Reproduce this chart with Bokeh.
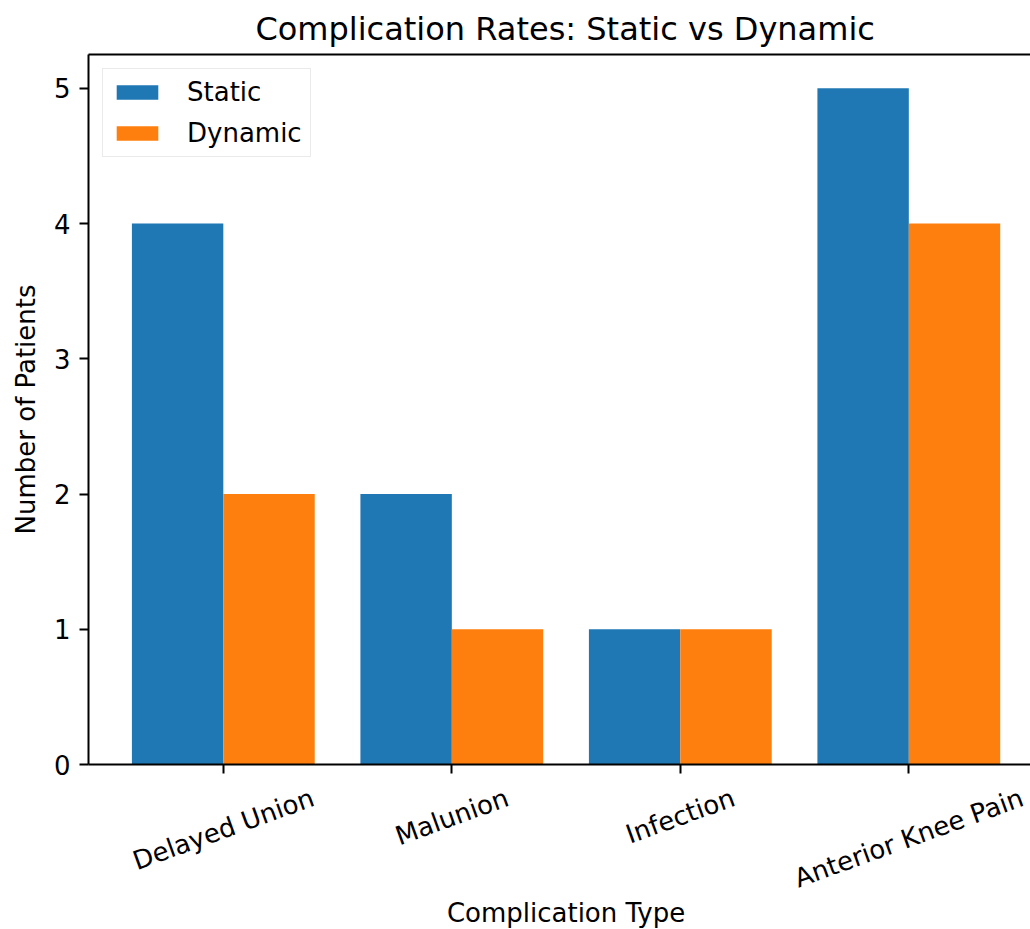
import math
import numpy as np
from bokeh.plotting import figure
from bokeh.layouts import column
from bokeh.models import Range1d, FixedTicker, LinearAxis, Legend, LegendItem
from bokeh.core.properties import value
from bokeh.embed import file_html
from bokeh.resources import INLINE

categories = ["Delayed Union", "Malunion", "Infection", "Anterior Knee Pain"]
static_vals = [4, 2, 1, 5]
dynamic_vals = [2, 1, 1, 4]
y_ticks = [0, 1, 2, 3, 4, 5]

FONT = "DejaVu Sans"
idx = np.arange(len(categories))
bar_w = 0.4

# approximate DejaVu Sans advance widths (units of 1/2048 em) to centre rotated labels
ADV = {"D": 1577, "e": 1260, "l": 569, "a": 1255, "y": 1212, "d": 1300, " ": 651,
       "U": 1499, "n": 1298, "i": 569, "o": 1253, "M": 1767, "u": 1298, "I": 604,
       "f": 721, "c": 1126, "t": 803, "A": 1401, "r": 842, "K": 1313, "P": 1235,
       "C": 1430, "m": 1995, "p": 1300, "R": 1423, "s": 1067, ":": 690, "S": 1300,
       "v": 1212, "T": 1251}


def text_w(s, size):
    return sum(ADV.get(ch, 1200) for ch in s) / 2048 * size


W, H = 1030, 929
FL, FT, FB = 88, 53, 764          # frame left / top / bottom in px
TICK_PANEL = 18
x0, x_ppu = -0.59, 228.5
y_end = 5.25
x_range = Range1d(x0, x0 + (W - FL) / x_ppu)

p = figure(width=W, height=FB + TICK_PANEL, output_backend="svg", toolbar_location=None,
           x_range=x_range, y_range=Range1d(0, y_end),
           min_border_left=FL, min_border_right=0, min_border_top=20,
           min_border_bottom=TICK_PANEL)
title_txt = "Complication Rates: Static vs Dynamic"
TITLE_FS = 32
p.title.text = title_txt
p.title.text_font = FONT
p.title.text_font_size = f"{TITLE_FS}px"
p.title.text_font_style = "normal"
p.title.text_color = "black"
p.title.align = "left"
p.title.offset = (1042 - FL) / 2 - text_w(title_txt, TITLE_FS) / 2
p.title.standoff = 14

r1 = p.vbar(x=idx - bar_w / 2, top=static_vals, width=bar_w, fill_color="#1f77b4", line_color=None)
r2 = p.vbar(x=idx + bar_w / 2, top=dynamic_vals, width=bar_w, fill_color="#ff7f0e", line_color=None)

p.xgrid.visible = False
p.ygrid.visible = False
p.outline_line_color = None

for ax in (p.xaxis[0], p.yaxis[0]):
    ax.axis_line_color = "black"
    ax.axis_line_width = 2
    ax.major_tick_line_color = "black"
    ax.major_tick_line_width = 2
    ax.major_tick_out = 9
    ax.major_tick_in = 0
    ax.minor_tick_line_color = None
    ax.major_label_text_font = FONT
    ax.major_label_text_font_size = "26px"
    ax.major_label_text_color = "black"
    ax.major_label_standoff = 9
    ax.axis_label_text_font = FONT
    ax.axis_label_text_font_size = "26px"
    ax.axis_label_text_font_style = "normal"
    ax.axis_label_text_color = "black"
    ax.axis_label_standoff = 10

# x ticks drawn as (label-free) minor ticks; category names are drawn below
p.xaxis.ticker = FixedTicker(ticks=[], minor_ticks=list(idx))
p.xaxis.minor_tick_line_color = "black"
p.xaxis.minor_tick_line_width = 2
p.xaxis.minor_tick_out = 9
p.xaxis.minor_tick_in = 0
p.yaxis.ticker = FixedTicker(ticks=y_ticks)
p.yaxis.axis_label = "Number of Patients"

top = LinearAxis(ticker=FixedTicker(ticks=[]), axis_line_color="black", axis_line_width=2,
                 major_tick_line_color=None, minor_tick_line_color=None)
p.add_layout(top, "above")

legend = Legend(items=[LegendItem(label="Static", renderers=[r1]),
                       LegendItem(label="Dynamic", renderers=[r2])],
                location="top_left")
legend.margin = 14
legend.padding = 8
legend.spacing = 11
legend.glyph_width = 52
legend.glyph_height = 18
legend.label_standoff = 24
legend.label_text_font = FONT
legend.label_text_font_size = "26px"
legend.label_text_color = "black"
legend.border_line_color = "#d6d6d6"
legend.border_line_width = 1.5
legend.background_fill_color = "white"
legend.background_fill_alpha = 0.8
p.add_layout(legend)

# lower strip: rotated category labels (centred like matplotlib rotation=20) + x-axis title
H2 = H - (FB + TICK_PANEL)
p2 = figure(width=W, height=H2, output_backend="svg", toolbar_location=None,
            x_range=x_range, y_range=Range1d(H2, 0),
            min_border_left=FL, min_border_right=0, min_border_top=0, min_border_bottom=0,
            x_axis_location=None, y_axis_location=None)
p2.xgrid.visible = False
p2.ygrid.visible = False
p2.outline_line_color = None

ang = math.radians(20)
lab_y = [(text_w(c, 26) / 2) * math.sin(ang) + 15 * math.cos(ang) for c in categories]
p2.text(x=list(idx.astype(float)), y=lab_y, text=categories, angle=20, angle_units="deg",
        text_align="center", text_baseline="middle", text_font=value(FONT),
        text_font_size="26px", text_color="black")
p2.text(x=[float(idx.mean())], y=[H2 - 17], text=["Complication Type"],
        text_align="center", text_baseline="middle", text_font=value(FONT),
        text_font_size="26px", text_color="black")

open("out.html", "w").write(file_html(column(p, p2, spacing=0), INLINE))
